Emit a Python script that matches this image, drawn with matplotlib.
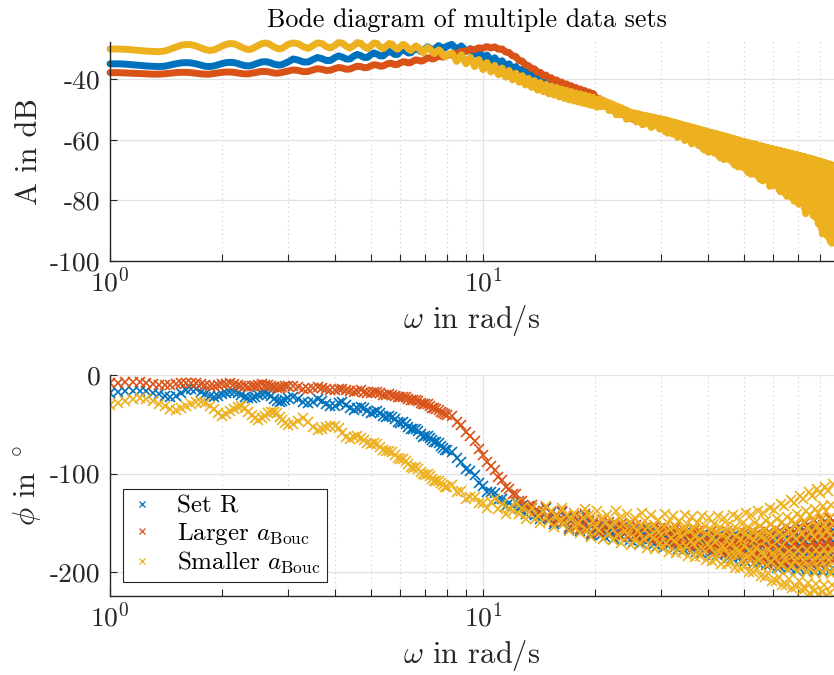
import numpy as np
import matplotlib.pyplot as plt
from matplotlib.ticker import FixedLocator, FixedFormatter, NullFormatter

plt.rc("font", family="serif", serif=["cmr10"], size=19.8)
plt.rc("mathtext", fontset="cm")
plt.rc("axes", unicode_minus=False)
plt.rc("axes.formatter", use_mathtext=True)

# frequency grid in rad/s (same for every data set)
omega_1 = [
    1.0, 1.05, 1.1, 1.15, 1.2, 1.25, 1.3, 1.35, 1.4, 1.45,
    1.5, 1.55, 1.6, 1.65, 1.7, 1.75, 1.8, 1.85, 1.9, 1.95,
    2.0, 2.05, 2.1, 2.15, 2.2, 2.25, 2.3, 2.35, 2.4, 2.45,
    2.5, 2.55, 2.6, 2.65, 2.7, 2.75, 2.8, 2.85, 2.9, 2.95,
    3.0]
omega_2 = [
    3.1, 3.2, 3.3, 3.4, 3.5, 3.6, 3.7, 3.8, 3.9, 4.0,
    4.1, 4.2, 4.3, 4.4, 4.5, 4.6, 4.7, 4.8, 4.9, 5.0,
    5.1, 5.2, 5.3, 5.4, 5.5, 5.6, 5.7, 5.8, 5.9, 6.0,
    6.1, 6.2, 6.3, 6.4, 6.5, 6.6, 6.7, 6.8, 6.9, 7.0,
    7.1, 7.2, 7.3, 7.4, 7.5, 7.6, 7.7, 7.8, 7.9, 8.0]
omega_3 = [
    8.25, 8.5, 8.75, 9.0, 9.25, 9.5, 9.75, 10.0,
    10.25, 10.5, 10.75, 11.0, 11.25, 11.5, 11.75, 12.0,
    12.25, 12.5, 12.75, 13.0, 13.25, 13.5, 13.75, 14.0,
    14.25, 14.5, 14.75, 15.0, 15.25, 15.5, 15.75, 16.0,
    16.25, 16.5, 16.75, 17.0, 17.25, 17.5, 17.75, 18.0,
    18.25, 18.5, 18.75, 19.0, 19.25, 19.5, 19.75, 20.0]
omega_4 = [
    20.25, 20.5, 20.75, 21.0, 21.25, 21.5, 21.75, 22.0,
    22.25, 22.5, 22.75, 23.0, 23.25, 23.5, 23.75, 24.0,
    24.25, 24.5, 24.75, 25.0, 25.25, 25.5, 25.75, 26.0,
    26.25, 26.5, 26.75, 27.0, 27.25, 27.5, 27.75, 28.0,
    28.25, 28.5, 28.75, 29.0, 29.25, 29.5, 29.75, 30.0,
    30.25, 30.5, 30.75, 31.0, 31.25, 31.5, 31.75, 32.0,
    32.25, 32.5, 32.75, 33.0, 33.25, 33.5, 33.75, 34.0,
    34.25, 34.5, 34.75, 35.0, 35.25, 35.5, 35.75, 36.0,
    36.25, 36.5, 36.75, 37.0, 37.25, 37.5, 37.75, 38.0,
    38.25, 38.5, 38.75, 39.0, 39.25, 39.5, 39.75, 40.0,
    40.25, 40.5, 40.75, 41.0, 41.25, 41.5, 41.75, 42.0,
    42.25, 42.5, 42.75, 43.0, 43.25, 43.5, 43.75, 44.0,
    44.25, 44.5, 44.75, 45.0, 45.25, 45.5, 45.75, 46.0,
    46.25, 46.5, 46.75, 47.0, 47.25, 47.5, 47.75, 48.0,
    48.25, 48.5, 48.75, 49.0, 49.25, 49.5, 49.75, 50.0,
    50.25, 50.5, 50.75, 51.0, 51.25, 51.5, 51.75, 52.0,
    52.25, 52.5, 52.75, 53.0, 53.25, 53.5, 53.75, 54.0,
    54.25, 54.5, 54.75, 55.0, 55.25, 55.5, 55.75, 56.0,
    56.25, 56.5, 56.75, 57.0, 57.25, 57.5, 57.75, 58.0,
    58.25, 58.5, 58.75, 59.0, 59.25, 59.5, 59.75, 60.0,
    60.25, 60.5, 60.75, 61.0, 61.25, 61.5, 61.75, 62.0,
    62.25, 62.5, 62.75, 63.0, 63.25, 63.5, 63.75, 64.0,
    64.25, 64.5, 64.75, 65.0, 65.25, 65.5, 65.75, 66.0,
    66.25, 66.5, 66.75, 67.0, 67.25, 67.5, 67.75, 68.0,
    68.25, 68.5, 68.75, 69.0, 69.25, 69.5, 69.75, 70.0,
    70.25, 70.5, 70.75, 71.0, 71.25, 71.5, 71.75, 72.0,
    72.25, 72.5, 72.75, 73.0, 73.25, 73.5, 73.75, 74.0,
    74.25, 74.5, 74.75, 75.0, 75.25, 75.5, 75.75, 76.0,
    76.25, 76.5, 76.75, 77.0, 77.25, 77.5, 77.75, 78.0,
    78.25, 78.5, 78.75, 79.0, 79.25, 79.5, 79.75, 80.0,
    80.25, 80.5, 80.75, 81.0, 81.25, 81.5, 81.75, 82.0,
    82.25, 82.5, 82.75, 83.0, 83.25, 83.5, 83.75, 84.0,
    84.25, 84.5, 84.75, 85.0, 85.25, 85.5, 85.75, 86.0,
    86.25, 86.5, 86.75, 87.0]

# amplitude in dB -- Set R
mag_R_1 = [
    -35.0, -35.0, -35.1, -35.3, -35.5, -35.7, -35.8, -35.9, -35.8, -35.4,
    -35.0, -34.7, -34.6, -34.7, -35.0, -35.4, -35.8, -35.9, -35.7, -35.3,
    -34.9, -34.6, -34.5, -34.6, -34.9, -35.3, -35.6, -35.7, -35.5, -35.1,
    -34.7, -34.4, -34.3, -34.4, -34.7, -35.1, -35.3, -35.4, -35.2, -34.8,
    -34.4]
mag_R_2 = [
    -33.4, -33.8, -34.4, -34.4, -33.6, -32.9, -33.3, -33.9, -33.9, -33.0,
    -32.4, -32.8, -33.4, -33.4, -32.5, -31.9, -32.3, -32.9, -32.9, -32.0,
    -31.4, -31.8, -32.4, -32.4, -31.5, -30.9, -31.3, -31.9, -31.9, -31.0,
    -30.4, -30.8, -31.4, -31.4, -30.5, -29.9, -30.3, -30.9, -30.9, -30.0,
    -29.4, -29.8, -30.4, -30.3, -29.6, -29.0, -29.4, -29.9, -29.8, -29.2]
mag_R_3 = [
    -28.6, -30.2, -29.1, -30.9, -30.0, -31.9, -31.0, -33.0,
    -32.1, -34.0, -33.0, -34.9, -34.0, -35.9, -35.0, -36.9,
    -35.9, -37.7, -36.7, -38.5, -37.5, -39.3, -38.3, -40.1,
    -39.0, -40.7, -39.7, -41.5, -40.3, -42.2, -41.0, -42.9,
    -41.7, -43.5, -42.3, -44.2, -42.9, -44.7, -43.4, -45.2,
    -43.9, -45.7, -44.4, -46.2, -44.9, -46.7, -45.4, -47.1]
mag_R_4 = [
    -47.7, -47.1, -48.2, -47.6, -48.7, -48.1, -49.2, -48.6,
    -49.6, -49.1, -50.1, -49.6, -50.6, -50.1, -51.1, -50.6,
    -51.6, -51.1, -52.1, -51.6, -52.5, -51.8, -52.7, -52.0,
    -53.1, -52.3, -53.3, -52.5, -53.5, -52.7, -53.7, -52.9,
    -54.0, -53.1, -54.2, -53.3, -54.4, -53.5, -54.6, -53.7,
    -55.0, -53.9, -55.2, -54.1, -55.4, -54.3, -55.7, -54.6,
    -56.1, -54.8, -56.3, -55.0, -56.5, -55.2, -56.8, -55.5,
    -57.3, -55.7, -57.5, -55.9, -57.7, -56.1, -57.9, -56.3,
    -58.3, -56.5, -58.5, -56.7, -58.7, -56.9, -58.9, -57.1,
    -59.4, -57.3, -59.6, -57.5, -59.8, -57.7, -60.0, -57.9,
    -60.5, -58.1, -60.7, -58.2, -60.8, -58.4, -61.0, -58.6,
    -61.4, -58.7, -61.5, -58.9, -61.7, -59.1, -61.9, -59.2,
    -62.3, -59.4, -62.5, -59.6, -62.7, -59.7, -62.8, -59.9,
    -63.2, -60.1, -63.4, -60.2, -63.5, -60.4, -63.7, -60.6,
    -64.2, -60.7, -64.3, -60.9, -64.5, -61.1, -64.7, -61.2,
    -65.1, -61.3, -65.2, -61.5, -65.4, -61.6, -65.5, -61.7,
    -65.9, -61.9, -66.1, -62.0, -66.2, -62.1, -66.3, -62.2,
    -66.7, -62.4, -66.9, -62.5, -67.0, -62.6, -67.1, -62.7,
    -67.4, -62.9, -67.6, -63.0, -67.7, -63.1, -67.8, -63.2,
    -68.1, -63.4, -68.3, -63.5, -68.4, -63.6, -68.5, -63.7,
    -68.8, -63.8, -68.9, -63.9, -69.0, -64.0, -69.1, -64.1,
    -69.5, -64.2, -69.6, -64.3, -69.7, -64.4, -69.8, -64.5,
    -70.2, -64.6, -70.3, -64.7, -70.4, -64.8, -70.5, -64.9,
    -71.0, -65.0, -71.1, -65.1, -71.2, -65.2, -71.3, -65.3,
    -71.8, -65.4, -71.9, -65.5, -72.0, -65.6, -72.1, -65.7,
    -72.6, -65.8, -72.7, -65.9, -72.8, -66.0, -72.9, -66.1,
    -73.4, -66.2, -73.5, -66.3, -73.6, -66.4, -73.7, -66.5,
    -74.2, -66.6, -74.3, -66.7, -74.4, -66.8, -74.5, -66.9,
    -75.2, -67.0, -75.3, -67.1, -75.4, -67.2, -75.5, -67.3,
    -76.2, -67.4, -76.3, -67.5, -76.4, -67.6, -76.5, -67.7,
    -77.2, -67.8, -77.3, -67.9, -77.4, -68.0, -77.5, -68.1,
    -78.2, -68.2, -78.3, -68.3, -78.4, -68.4, -78.5, -68.5,
    -79.2, -68.6, -79.3, -68.7, -79.4, -68.8, -79.5, -68.9,
    -80.2, -69.0, -80.3, -69.1]

# amplitude in dB -- larger a_Bouc
mag_L_1 = [
    -37.9, -37.9, -38.0, -38.1, -38.2, -38.3, -38.4, -38.4, -38.3, -38.1,
    -37.9, -37.8, -37.8, -37.9, -38.1, -38.3, -38.4, -38.4, -38.2, -38.0,
    -37.8, -37.7, -37.7, -37.8, -38.0, -38.2, -38.3, -38.3, -38.1, -37.9,
    -37.7, -37.5, -37.5, -37.6, -37.8, -38.0, -38.1, -38.0, -37.8, -37.6,
    -37.4]
mag_L_2 = [
    -37.0, -37.2, -37.6, -37.5, -37.0, -36.6, -36.8, -37.2, -37.1, -36.6,
    -36.2, -36.4, -36.8, -36.7, -36.2, -35.8, -35.9, -36.3, -36.2, -35.7,
    -35.3, -35.4, -35.8, -35.7, -35.2, -34.8, -34.9, -35.3, -35.2, -34.7,
    -34.3, -34.4, -34.7, -34.6, -34.1, -33.7, -33.8, -34.1, -34.0, -33.5,
    -33.0, -33.1, -33.4, -33.3, -32.8, -32.4, -32.5, -32.8, -32.6, -32.2]
mag_L_3 = [
    -31.9, -31.6, -30.9, -30.8, -30.2, -30.3, -29.7, -29.9,
    -29.3, -29.8, -29.4, -30.2, -30.1, -31.1, -31.3, -32.4,
    -32.6, -34.0, -34.1, -35.4, -35.6, -36.6, -36.7, -37.8,
    -37.8, -38.9, -38.7, -39.8, -39.6, -40.6, -40.3, -41.3,
    -41.0, -42.0, -41.6, -42.6, -42.2, -43.2, -42.8, -43.8,
    -43.3, -44.3, -43.8, -44.8, -44.3, -45.3, -44.8, -45.8]
mag_L_4 = [
    -46.8, -46.4, -47.5, -47.0, -48.3, -47.8, -49.0, -48.4,
    -50.4, -48.9, -50.9, -49.4, -51.4, -49.9, -51.9, -50.4,
    -52.4, -50.9, -52.9, -51.4, -53.3, -51.6, -53.5, -51.8,
    -53.9, -52.1, -54.1, -52.3, -54.3, -52.5, -54.5, -52.7,
    -54.8, -52.9, -55.0, -53.1, -55.2, -53.3, -55.4, -53.5,
    -55.8, -53.7, -56.0, -53.9, -56.2, -54.1, -56.5, -54.4,
    -56.9, -54.6, -57.1, -54.8, -57.3, -55.0, -57.6, -55.3,
    -58.1, -55.5, -58.3, -55.7, -58.5, -55.9, -58.7, -56.1,
    -59.1, -56.3, -59.3, -56.5, -59.5, -56.7, -59.7, -56.9,
    -60.2, -57.1, -60.4, -57.3, -60.6, -57.5, -60.8, -57.7,
    -61.3, -57.9, -61.5, -58.0, -61.6, -58.2, -61.8, -58.4,
    -62.2, -58.5, -62.3, -58.7, -62.5, -58.9, -62.7, -59.0,
    -63.1, -59.2, -63.3, -59.4, -63.5, -59.5, -63.6, -59.7,
    -64.0, -59.9, -64.2, -60.0, -64.3, -60.2, -64.5, -60.4,
    -65.0, -60.5, -65.1, -60.7, -65.3, -60.9, -65.5, -61.0,
    -65.9, -61.1, -66.0, -61.3, -66.2, -61.4, -66.3, -61.5,
    -66.7, -61.7, -66.9, -61.8, -67.0, -61.9, -67.1, -62.0,
    -67.5, -62.2, -67.7, -62.3, -67.8, -62.4, -67.9, -62.5,
    -68.2, -62.7, -68.4, -62.8, -68.5, -62.9, -68.6, -63.0,
    -68.9, -63.2, -69.1, -63.3, -69.2, -63.4, -69.3, -63.5,
    -69.6, -63.6, -69.7, -63.7, -69.8, -63.8, -69.9, -63.9,
    -70.3, -64.0, -70.4, -64.1, -70.5, -64.2, -70.6, -64.3,
    -71.0, -64.4, -71.1, -64.5, -71.2, -64.6, -71.3, -64.7,
    -71.8, -64.8, -71.9, -64.9, -72.0, -65.0, -72.1, -65.1,
    -72.6, -65.2, -72.7, -65.3, -72.8, -65.4, -72.9, -65.5,
    -73.4, -65.6, -73.5, -65.7, -73.6, -65.8, -73.7, -65.9,
    -74.2, -66.0, -74.3, -66.1, -74.4, -66.2, -74.5, -66.3,
    -75.0, -66.4, -75.1, -66.5, -75.2, -66.6, -75.3, -66.7,
    -76.0, -66.8, -76.1, -66.9, -76.2, -67.0, -76.3, -67.1,
    -77.0, -67.2, -77.1, -67.3, -77.2, -67.4, -77.3, -67.5,
    -78.0, -67.6, -78.1, -67.7, -78.2, -67.8, -78.3, -67.9,
    -79.0, -68.0, -79.1, -68.1, -79.2, -68.2, -79.3, -68.3,
    -80.0, -68.4, -80.1, -68.5, -80.2, -68.6, -80.3, -68.7,
    -81.0, -68.8, -81.1, -68.9]

# amplitude in dB -- smaller a_Bouc
mag_S_1 = [
    -30.1, -30.1, -30.2, -30.4, -30.6, -30.8, -30.9, -31.0, -30.8, -30.2,
    -29.5, -28.9, -28.6, -28.7, -29.1, -29.7, -30.3, -30.6, -30.4, -29.8,
    -29.1, -28.6, -28.3, -28.4, -28.9, -29.5, -30.0, -30.3, -30.1, -29.5,
    -28.9, -28.4, -28.1, -28.3, -28.8, -29.4, -29.9, -30.1, -29.8, -29.2,
    -28.6]
mag_S_2 = [
    -28.1, -28.4, -29.4, -29.9, -29.0, -28.1, -28.3, -29.3, -29.8, -29.0,
    -28.0, -28.2, -29.2, -29.8, -29.0, -28.0, -28.2, -29.3, -29.9, -29.1,
    -28.1, -28.3, -29.4, -30.0, -29.2, -28.3, -28.5, -29.6, -30.2, -29.4,
    -28.6, -28.9, -30.0, -30.6, -29.9, -29.1, -29.5, -30.6, -31.3, -30.3,
    -29.6, -30.0, -31.0, -31.6, -31.0, -30.4, -30.9, -32.0, -32.7, -32.1]
mag_S_3 = [
    -31.4, -34.2, -32.0, -35.0, -32.8, -35.9, -33.6, -36.9,
    -34.6, -37.7, -35.5, -38.6, -36.4, -39.4, -37.2, -40.3,
    -38.1, -41.1, -38.9, -42.0, -39.8, -42.8, -40.5, -43.7,
    -41.2, -44.2, -41.8, -44.9, -42.3, -45.3, -42.8, -45.9,
    -43.3, -46.4, -43.7, -46.9, -44.1, -47.3, -44.6, -47.6,
    -44.9, -48.0, -45.3, -48.3, -45.7, -48.7, -46.0, -49.0]
mag_S_4 = [
    -49.3, -46.5, -49.1, -47.0, -49.1, -47.5, -50.4, -48.0,
    -50.4, -48.5, -51.8, -49.0, -51.8, -49.5, -51.6, -50.0,
    -53.3, -50.5, -53.0, -51.0, -52.8, -51.2, -54.2, -51.4,
    -53.8, -51.7, -55.1, -51.9, -54.8, -52.1, -54.3, -52.3,
    -56.0, -52.5, -55.4, -52.7, -55.1, -52.9, -56.5, -53.1,
    -56.0, -53.3, -57.3, -53.5, -57.9, -53.7, -56.7, -54.0,
    -58.2, -54.2, -57.3, -54.4, -59.3, -54.6, -58.8, -54.9,
    -58.5, -55.1, -60.3, -55.3, -60.0, -55.5, -59.2, -55.7,
    -61.4, -55.9, -60.7, -56.1, -60.1, -56.3, -61.9, -56.5,
    -61.0, -56.7, -62.8, -56.9, -63.5, -57.1, -62.6, -57.3,
    -64.2, -57.5, -63.3, -57.6, -62.3, -57.8, -64.5, -58.0,
    -63.2, -58.1, -65.3, -58.3, -66.0, -58.5, -64.8, -58.6,
    -66.6, -58.8, -65.5, -59.0, -64.6, -59.1, -66.7, -59.3,
    -65.4, -59.5, -67.6, -59.6, -68.4, -59.8, -67.1, -60.0,
    -69.0, -60.1, -67.8, -60.3, -66.6, -60.5, -69.2, -60.6,
    -67.4, -60.7, -69.9, -60.9, -70.8, -61.0, -69.3, -61.1,
    -71.4, -61.3, -70.1, -61.4, -68.8, -61.5, -71.5, -61.6,
    -69.6, -61.8, -72.2, -61.9, -73.1, -62.0, -71.4, -62.1,
    -73.6, -62.3, -72.1, -62.4, -70.6, -62.5, -73.4, -62.6,
    -73.1, -62.8, -75.4, -62.9, -74.6, -63.0, -72.4, -63.1,
    -75.1, -63.2, -73.4, -63.3, -72.1, -63.4, -74.9, -63.5,
    -76.6, -63.6, -77.2, -63.7, -75.1, -63.8, -73.6, -63.9,
    -76.1, -64.0, -77.9, -64.1, -78.7, -64.2, -76.0, -64.3,
    -74.4, -64.4, -77.2, -64.5, -79.1, -64.6, -76.9, -64.7,
    -80.3, -64.8, -79.1, -64.9, -76.5, -65.0, -79.3, -65.1,
    -81.3, -65.2, -78.9, -65.3, -77.3, -65.4, -81.1, -65.5,
    -78.9, -65.6, -82.7, -65.7, -84.4, -65.8, -81.4, -65.9,
    -83.2, -66.0, -80.0, -66.1, -78.7, -66.2, -83.2, -66.3,
    -80.6, -66.4, -85.1, -66.5, -83.5, -66.6, -81.0, -66.7,
    -85.9, -66.8, -83.4, -66.9, -87.8, -67.0, -85.8, -67.1,
    -84.2, -67.2, -89.2, -67.3, -91.1, -67.4, -86.5, -67.5,
    -89.0, -67.6, -85.4, -67.7, -88.3, -67.8, -91.8, -67.9,
    -87.2, -68.0, -90.6, -68.1, -93.5, -68.2, -90.0, -68.3,
    -94.2, -68.4, -93.6, -68.5]

# phase in degrees -- Set R
ph_R_1 = [
    -18.6, -17.5, -16.5, -16.0, -15.9, -16.5, -18.0, -19.8, -21.2, -22.0,
    -21.0, -18.5, -15.5, -13.8, -14.5, -17.0, -19.8, -21.6, -22.0, -21.0,
    -19.5, -18.0, -17.0, -17.0, -18.5, -20.5, -22.5, -23.6, -23.5, -22.0,
    -20.5, -19.2, -18.7, -19.5, -21.5, -24.0, -26.0, -27.0, -26.5, -25.0,
    -23.5]
ph_R_2 = [
    -22.2, -24.5, -27.5, -28.8, -27.5, -24.5, -26.0, -29.5, -32.0, -31.5,
    -28.5, -27.5, -30.0, -33.5, -35.5, -34.0, -32.5, -34.0, -37.0, -38.5,
    -37.5, -37.0, -39.0, -41.5, -42.5, -42.0, -42.5, -45.0, -47.5, -48.5,
    -48.0, -49.5, -52.5, -54.5, -55.0, -55.0, -57.0, -60.0, -62.5, -61.5,
    -62.0, -64.0, -66.5, -68.0, -68.5, -69.5, -72.0, -74.5, -76.0, -76.5]
ph_R_3 = [
    -78.2, -84.7, -88.2, -95.9, -97.8, -101.7, -109.2, -112.3,
    -118.8, -118.9, -119.5, -127.3, -125.4, -132.5, -129.8, -132.9,
    -128.6, -136.1, -133.4, -141.3, -136.9, -135.1, -142.1, -140.8,
    -146.4, -139.4, -135.3, -146.5, -139.9, -151.5, -143.9, -147.8,
    -139.4, -150.1, -144.7, -156.1, -148.2, -144.3, -154.8, -151.7,
    -158.2, -148.8, -143.0, -157.0, -147.9, -162.3, -151.9, -156.3]
ph_R_4 = [
    -159.4, -152.1, -162.8, -155.6, -164.9, -153.9, -157.7, -161.1,
    -156.3, -166.6, -158.9, -152.7, -162.2, -164.7, -154.5, -160.7,
    -163.5, -155.5, -167.4, -159.3, -169.7, -157.4, -161.6, -165.5,
    -159.6, -170.8, -162.4, -155.6, -166.0, -168.8, -157.6, -164.4,
    -166.9, -158.1, -171.1, -162.3, -173.6, -160.2, -164.8, -169.0,
    -162.2, -174.4, -165.3, -157.9, -169.2, -172.3, -160.1, -167.5,
    -169.6, -160.1, -174.2, -164.6, -176.9, -162.3, -167.3, -171.9,
    -164.2, -177.6, -167.6, -159.5, -171.9, -175.2, -161.9, -170.0,
    -172.2, -161.9, -177.1, -166.8, -180.0, -164.3, -169.7, -174.6,
    -166.3, -180.6, -169.9, -161.2, -174.5, -178.0, -163.7, -172.4,
    -174.5, -163.5, -179.8, -168.7, -182.9, -166.1, -171.9, -177.1,
    -167.7, -183.0, -171.6, -162.3, -176.5, -180.3, -165.0, -174.3,
    -176.3, -164.4, -181.9, -170.0, -185.3, -167.2, -173.4, -179.1,
    -168.8, -185.6, -173.0, -162.8, -178.4, -182.6, -165.8, -176.0,
    -178.1, -164.8, -184.5, -171.2, -188.3, -168.0, -175.0, -181.3,
    -169.5, -188.3, -174.2, -162.8, -180.2, -184.9, -166.1, -177.5,
    -179.4, -164.6, -186.5, -171.7, -190.7, -168.1, -175.9, -182.9,
    -169.5, -190.4, -174.8, -162.1, -181.5, -186.7, -165.8, -178.5,
    -180.6, -164.0, -188.5, -171.9, -193.2, -167.9, -176.6, -184.5,
    -169.4, -192.8, -175.3, -161.1, -182.8, -188.7, -165.3, -179.5,
    -181.5, -163.0, -190.3, -171.8, -195.6, -167.4, -177.1, -185.9,
    -168.7, -194.7, -175.2, -159.5, -183.6, -190.0, -164.1, -179.9,
    -181.9, -161.5, -191.6, -171.2, -197.4, -166.4, -177.0, -186.7,
    -167.5, -195.7, -174.6, -157.5, -183.6, -190.7, -162.5, -179.6,
    -181.4, -159.5, -191.8, -169.9, -198.0, -164.7, -176.2, -186.6,
    -166.0, -196.2, -173.6, -155.3, -183.3, -190.8, -160.7, -179.0,
    -180.8, -157.5, -191.9, -168.6, -198.6, -163.1, -175.3, -186.4,
    -164.5, -196.7, -172.5, -153.0, -182.9, -191.0, -158.7, -178.3,
    -180.3, -155.6, -192.1, -167.4, -199.1, -161.5, -174.4, -186.2,
    -163.2, -196.8, -171.6, -151.2, -182.4, -190.8, -157.2, -177.6,
    -179.7, -154.0, -192.0, -166.2, -199.3, -160.1, -173.6, -185.8,
    -162.0, -196.9, -170.8, -149.6, -182.0, -190.7, -155.8, -177.0,
    -179.2, -152.8, -191.8, -165.4, -199.4, -159.1, -172.9, -185.5,
    -161.2, -197.0, -170.2, -148.4]

# phase in degrees -- larger a_Bouc
ph_L_1 = [
    -8.5, -8.0, -7.5, -7.3, -7.5, -8.2, -9.2, -10.0, -10.4, -10.2,
    -9.5, -8.6, -8.0, -7.8, -8.3, -9.3, -10.3, -10.9, -10.8, -10.2,
    -9.4, -8.8, -8.6, -9.0, -9.9, -10.9, -11.6, -11.8, -11.4, -10.7,
    -10.0, -9.6, -9.7, -10.3, -11.3, -12.3, -12.9, -12.9, -12.3, -11.5,
    -11.0]
ph_L_2 = [
    -11.2, -12.5, -13.8, -14.3, -13.5, -12.5, -12.8, -14.2, -15.3, -15.2,
    -14.2, -13.9, -15.0, -16.4, -16.8, -16.0, -15.6, -16.8, -18.0, -18.2,
    -17.4, -17.5, -18.8, -19.9, -20.0, -19.4, -19.9, -21.3, -22.3, -22.3,
    -21.9, -22.8, -24.3, -25.2, -25.2, -25.2, -26.5, -28.2, -29.2, -29.4,
    -29.8, -31.5, -33.2, -34.0, -34.3, -35.3, -37.2, -38.9, -39.9, -40.5]
ph_L_3 = [
    -41.7, -47.5, -50.9, -57.4, -61.9, -67.0, -75.4, -81.2,
    -88.6, -92.4, -96.0, -104.0, -106.4, -114.0, -115.6, -120.5,
    -120.8, -128.2, -128.1, -134.8, -132.7, -132.2, -138.1, -138.0,
    -143.3, -137.7, -134.5, -144.5, -139.0, -149.0, -142.6, -146.0,
    -137.9, -148.6, -143.2, -154.6, -146.7, -142.8, -153.3, -150.2,
    -156.7, -147.3, -141.5, -155.5, -146.4, -160.8, -150.3, -154.8]
ph_L_4 = [
    -150.5, -160.2, -153.0, -147.1, -156.1, -158.5, -148.8, -154.7,
    -157.5, -149.8, -161.1, -153.4, -163.3, -151.6, -155.6, -159.3,
    -154.1, -164.9, -156.8, -150.3, -160.3, -163.0, -152.2, -158.8,
    -161.2, -152.8, -165.2, -156.8, -167.6, -154.8, -159.2, -163.2,
    -157.0, -168.8, -159.9, -152.8, -163.7, -166.7, -154.9, -162.0,
    -164.3, -155.2, -168.7, -159.6, -171.3, -157.4, -162.2, -166.5,
    -159.2, -172.0, -162.4, -154.7, -166.5, -169.7, -157.0, -164.7,
    -166.9, -156.9, -171.7, -161.7, -174.5, -159.3, -164.5, -169.3,
    -161.3, -175.0, -164.7, -156.4, -169.1, -172.6, -158.8, -167.2,
    -169.4, -158.7, -174.5, -163.8, -177.6, -161.3, -166.9, -172.0,
    -163.1, -177.9, -166.8, -157.9, -171.6, -175.2, -160.5, -169.5,
    -171.4, -159.9, -176.8, -165.4, -180.1, -162.7, -168.7, -174.1,
    -164.3, -180.2, -168.3, -158.7, -173.4, -177.3, -161.5, -171.1,
    -173.2, -160.6, -179.2, -166.6, -182.8, -163.6, -170.2, -176.2,
    -165.2, -183.0, -169.7, -158.9, -175.4, -179.9, -162.1, -172.9,
    -174.9, -160.8, -181.6, -167.5, -185.6, -164.2, -171.5, -178.2,
    -165.5, -185.3, -170.5, -158.5, -176.8, -181.8, -162.0, -174.0,
    -176.0, -160.3, -183.4, -167.8, -187.9, -164.1, -172.3, -179.7,
    -165.5, -187.6, -171.0, -157.6, -178.1, -183.7, -161.5, -175.0,
    -177.1, -159.6, -185.5, -168.0, -190.5, -163.8, -173.0, -181.3,
    -165.2, -189.8, -171.4, -156.4, -179.3, -185.4, -160.8, -175.8,
    -177.7, -158.3, -187.0, -167.5, -192.5, -162.9, -173.1, -182.3,
    -164.3, -191.5, -171.1, -154.6, -179.8, -186.6, -159.4, -175.9,
    -177.6, -156.5, -187.7, -166.6, -193.7, -161.5, -172.6, -182.6,
    -162.8, -191.9, -170.1, -152.4, -179.4, -186.7, -157.6, -175.3,
    -177.1, -154.5, -187.9, -165.3, -194.3, -159.9, -171.7, -182.5,
    -161.3, -192.4, -169.1, -150.2, -179.1, -186.8, -155.7, -174.6,
    -176.6, -152.4, -188.1, -163.9, -195.0, -158.2, -170.8, -182.4,
    -159.8, -192.8, -168.1, -148.1, -178.7, -186.9, -154.0, -174.0,
    -176.0, -150.8, -188.0, -162.8, -195.2, -156.8, -170.0, -182.0,
    -158.5, -192.9, -167.1, -146.3, -178.2, -186.7, -152.4, -173.3,
    -175.5, -149.3, -187.9, -161.8, -195.4, -155.6, -169.3, -181.7,
    -157.6, -192.9, -166.4, -145.0, -177.8, -186.6, -151.3, -172.7,
    -175.1, -148.2, -187.9, -161.0]

# phase in degrees -- smaller a_Bouc
ph_S_1 = [
    -30.5, -28.5, -26.5, -24.8, -23.8, -24.0, -26.0, -29.0, -32.0, -34.5,
    -35.5, -34.0, -31.5, -29.0, -27.5, -27.0, -28.5, -31.5, -35.0, -39.0,
    -41.5, -40.0, -37.0, -34.5, -32.5, -32.0, -34.0, -37.5, -41.0, -44.0,
    -45.5, -44.0, -41.5, -39.0, -37.5, -37.2, -39.0, -42.5, -46.0, -49.0,
    -50.5]
ph_S_2 = [
    -50.0, -46.5, -44.0, -47.5, -53.0, -56.0, -54.5, -52.5, -51.5, -52.0,
    -54.0, -58.5, -62.5, -64.5, -63.0, -62.0, -63.5, -66.5, -69.5, -70.5,
    -69.5, -70.5, -73.5, -76.5, -77.5, -77.0, -78.5, -81.5, -84.5, -85.5,
    -85.0, -87.0, -90.0, -93.0, -94.0, -93.5, -95.5, -98.5, -101.0, -101.5,
    -101.0, -103.0, -106.0, -108.0, -108.0, -107.5, -109.5, -112.0, -114.0, -113.5]
ph_S_3 = [
    -111.9, -118.9, -117.9, -125.8, -123.6, -123.4, -129.9, -129.6,
    -134.8, -129.2, -126.3, -136.5, -130.9, -141.0, -134.6, -138.0,
    -129.9, -140.6, -135.2, -146.6, -138.8, -135.1, -145.7, -142.7,
    -150.0, -139.5, -133.0, -148.5, -138.5, -154.5, -143.0, -148.0,
    -135.1, -150.5, -141.8, -158.4, -146.2, -140.0, -155.3, -150.3,
    -160.1, -145.1, -135.6, -157.0, -142.6, -164.5, -148.0, -154.5]
ph_S_4 = [
    -138.1, -157.4, -145.8, -166.6, -150.5, -142.0, -161.2, -154.3,
    -167.0, -149.1, -137.8, -162.1, -145.1, -170.2, -150.8, -158.0,
    -140.7, -162.0, -149.2, -172.2, -154.3, -145.0, -166.2, -158.6,
    -171.8, -152.3, -139.8, -166.5, -147.8, -175.4, -154.0, -162.1,
    -142.5, -165.7, -151.8, -176.9, -157.3, -147.1, -170.4, -162.0,
    -176.1, -154.8, -141.2, -170.3, -149.9, -180.0, -156.7, -165.5,
    -143.6, -168.9, -153.7, -181.0, -159.8, -148.7, -173.9, -164.8,
    -179.8, -156.7, -142.0, -173.5, -151.4, -184.0, -158.8, -168.3,
    -144.6, -171.8, -155.5, -184.9, -162.0, -150.0, -177.3, -167.5,
    -183.5, -158.6, -142.8, -176.7, -153.0, -188.0, -160.9, -171.1,
    -145.3, -174.6, -157.0, -188.6, -164.1, -151.2, -180.4, -169.9,
    -186.6, -159.9, -143.0, -179.3, -153.9, -191.4, -162.4, -173.3,
    -145.5, -176.8, -158.0, -191.8, -165.5, -151.8, -183.0, -171.8,
    -190.1, -160.8, -142.2, -182.1, -154.2, -195.4, -163.5, -175.5,
    -144.2, -179.5, -158.3, -196.4, -166.8, -151.3, -186.5, -173.8,
    -194.0, -161.3, -140.4, -185.1, -153.8, -200.0, -164.2, -177.7,
    -142.3, -181.6, -158.0, -200.4, -167.5, -150.2, -189.4, -175.3,
    -197.4, -161.1, -138.0, -187.5, -152.8, -204.0, -164.4, -179.3,
    -139.9, -183.7, -157.4, -204.7, -167.9, -148.6, -192.4, -176.7,
    -201.4, -160.7, -134.8, -190.3, -151.4, -208.8, -164.4, -181.1,
    -136.9, -185.7, -156.4, -209.1, -168.1, -146.6, -195.4, -177.9,
    -204.8, -159.7, -131.0, -192.5, -149.4, -213.0, -163.8, -182.3,
    -133.3, -187.1, -154.8, -212.9, -167.7, -144.0, -197.8, -178.5,
    -207.3, -158.2, -127.0, -193.9, -147.1, -216.2, -162.7, -182.8,
    -129.6, -187.4, -152.7, -215.1, -166.6, -141.2, -198.9, -178.1,
    -209.0, -156.5, -123.0, -194.7, -144.5, -218.6, -161.2, -182.8,
    -125.9, -187.7, -150.6, -217.3, -165.5, -138.3, -200.0, -177.8,
    -210.8, -154.7, -119.0, -195.5, -141.9, -221.0, -159.8, -182.8,
    -122.6, -187.9, -148.7, -219.2, -164.4, -135.7, -200.9, -177.4,
    -211.9, -153.2, -115.8, -195.9, -139.8, -222.6, -158.5, -182.6,
    -119.8, -187.8, -147.0, -220.5, -163.4, -133.4, -201.4, -177.0,
    -212.7, -151.9, -113.2, -196.2, -138.1, -223.8, -157.4, -182.3,
    -117.7, -187.8, -145.8, -221.5, -162.6, -131.7, -201.9, -176.6,
    -213.6, -150.9, -111.0, -196.5]

labels = ["Set R", r"Larger $a_\mathrm{Bouc}$", r"Smaller $a_\mathrm{Bouc}$"]
colors = ["#0072BD", "#D95319", "#EDB120"]
mag_ticks = [-100, -80, -60, -40]
ph_ticks = [-200, -100, 0]
minor_ticks = [2, 3, 4, 5, 6, 7, 8, 9, 20, 30, 40, 50, 60, 70, 80]

omega = np.array(omega_1 + omega_2 + omega_3 + omega_4)
mags = [np.array(mag_R_1 + mag_R_2 + mag_R_3 + mag_R_4),
        np.array(mag_L_1 + mag_L_2 + mag_L_3 + mag_L_4),
        np.array(mag_S_1 + mag_S_2 + mag_S_3 + mag_S_4)]
phases = [np.array(ph_R_1 + ph_R_2 + ph_R_3 + ph_R_4),
          np.array(ph_L_1 + ph_L_2 + ph_L_3 + ph_L_4),
          np.array(ph_S_1 + ph_S_2 + ph_S_3 + ph_S_4)]

dark = "#262626"

fig = plt.figure(figsize=(8.34, 6.75), dpi=100)
ax1 = fig.add_axes([0.1319, 0.6133, 0.8681, 0.3245])
ax2 = fig.add_axes([0.1319, 0.1175, 0.8681, 0.3270])

for lab, c, mag, ph in zip(labels, colors, mags, phases):
    ax1.plot(omega, mag, color=c, lw=5, solid_joinstyle="round",
             solid_capstyle="round", clip_on=False)
    ax2.plot(omega, ph, ls="none", marker="x", ms=6.8, mew=1.2, color=c, label=lab)

for ax in (ax1, ax2):
    ax.set_xscale("log")
    ax.set_xlim(1, 87.3)
    ax.xaxis.set_major_locator(FixedLocator([1, 10]))
    ax.xaxis.set_major_formatter(FixedFormatter([r"$10^0$", r"$10^1$"]))
    ax.xaxis.set_minor_locator(FixedLocator(minor_ticks))
    ax.xaxis.set_minor_formatter(NullFormatter())
    ax.spines["top"].set_visible(False)
    ax.spines["right"].set_visible(False)
    ax.spines["left"].set_color(dark)
    ax.spines["bottom"].set_color(dark)
    ax.spines["left"].set_linewidth(1.0)
    ax.spines["bottom"].set_linewidth(1.0)
    ax.set_axisbelow(True)
    ax.grid(True, which="major", color="#e2e2e2", lw=0.9)
    ax.grid(True, which="minor", axis="x", color="#cccccc", ls=(0, (1, 3)), lw=0.8)
    ax.tick_params(which="both", direction="in", length=5, width=0.8, colors=dark,
                   labelsize=19.8)
    ax.tick_params(axis="y", pad=7)
    ax.tick_params(axis="x", pad=4)
    ax.set_xlabel(r"$\omega$ in rad/s", fontsize=22, color=dark, labelpad=5)

ax1.set_ylim(-100, -27.8)
ax1.yaxis.set_major_locator(FixedLocator(mag_ticks))
ax1.yaxis.set_major_formatter(FixedFormatter([str(t) for t in mag_ticks]))
ax1.set_ylabel("A in dB", fontsize=22, color=dark)
ax1.yaxis.set_label_coords(-0.0925, 0.5)
ax1.set_title("Bode diagram of multiple data sets", fontsize=18.7, pad=11, x=0.493)

ax2.set_ylim(-224, 0)
ax2.yaxis.set_major_locator(FixedLocator(ph_ticks))
ax2.yaxis.set_major_formatter(FixedFormatter([str(t) for t in ph_ticks]))
ax2.set_ylabel(r"$\phi$ in $^\circ$", fontsize=22, color=dark)
ax2.yaxis.set_label_coords(-0.0925, 0.5)

leg = ax2.legend(loc="lower left", bbox_to_anchor=(0.018, 0.062), borderaxespad=0,
                 fontsize=18, fancybox=False, framealpha=1, edgecolor=dark,
                 handlelength=1.0, handletextpad=0.9, labelspacing=0.12,
                 borderpad=0.25)
leg.get_frame().set_linewidth(0.8)
for h in leg.legend_handles:
    h.set_markersize(4.5)
    h.set_markeredgewidth(0.9)

fig.savefig("out.png", dpi=100)
